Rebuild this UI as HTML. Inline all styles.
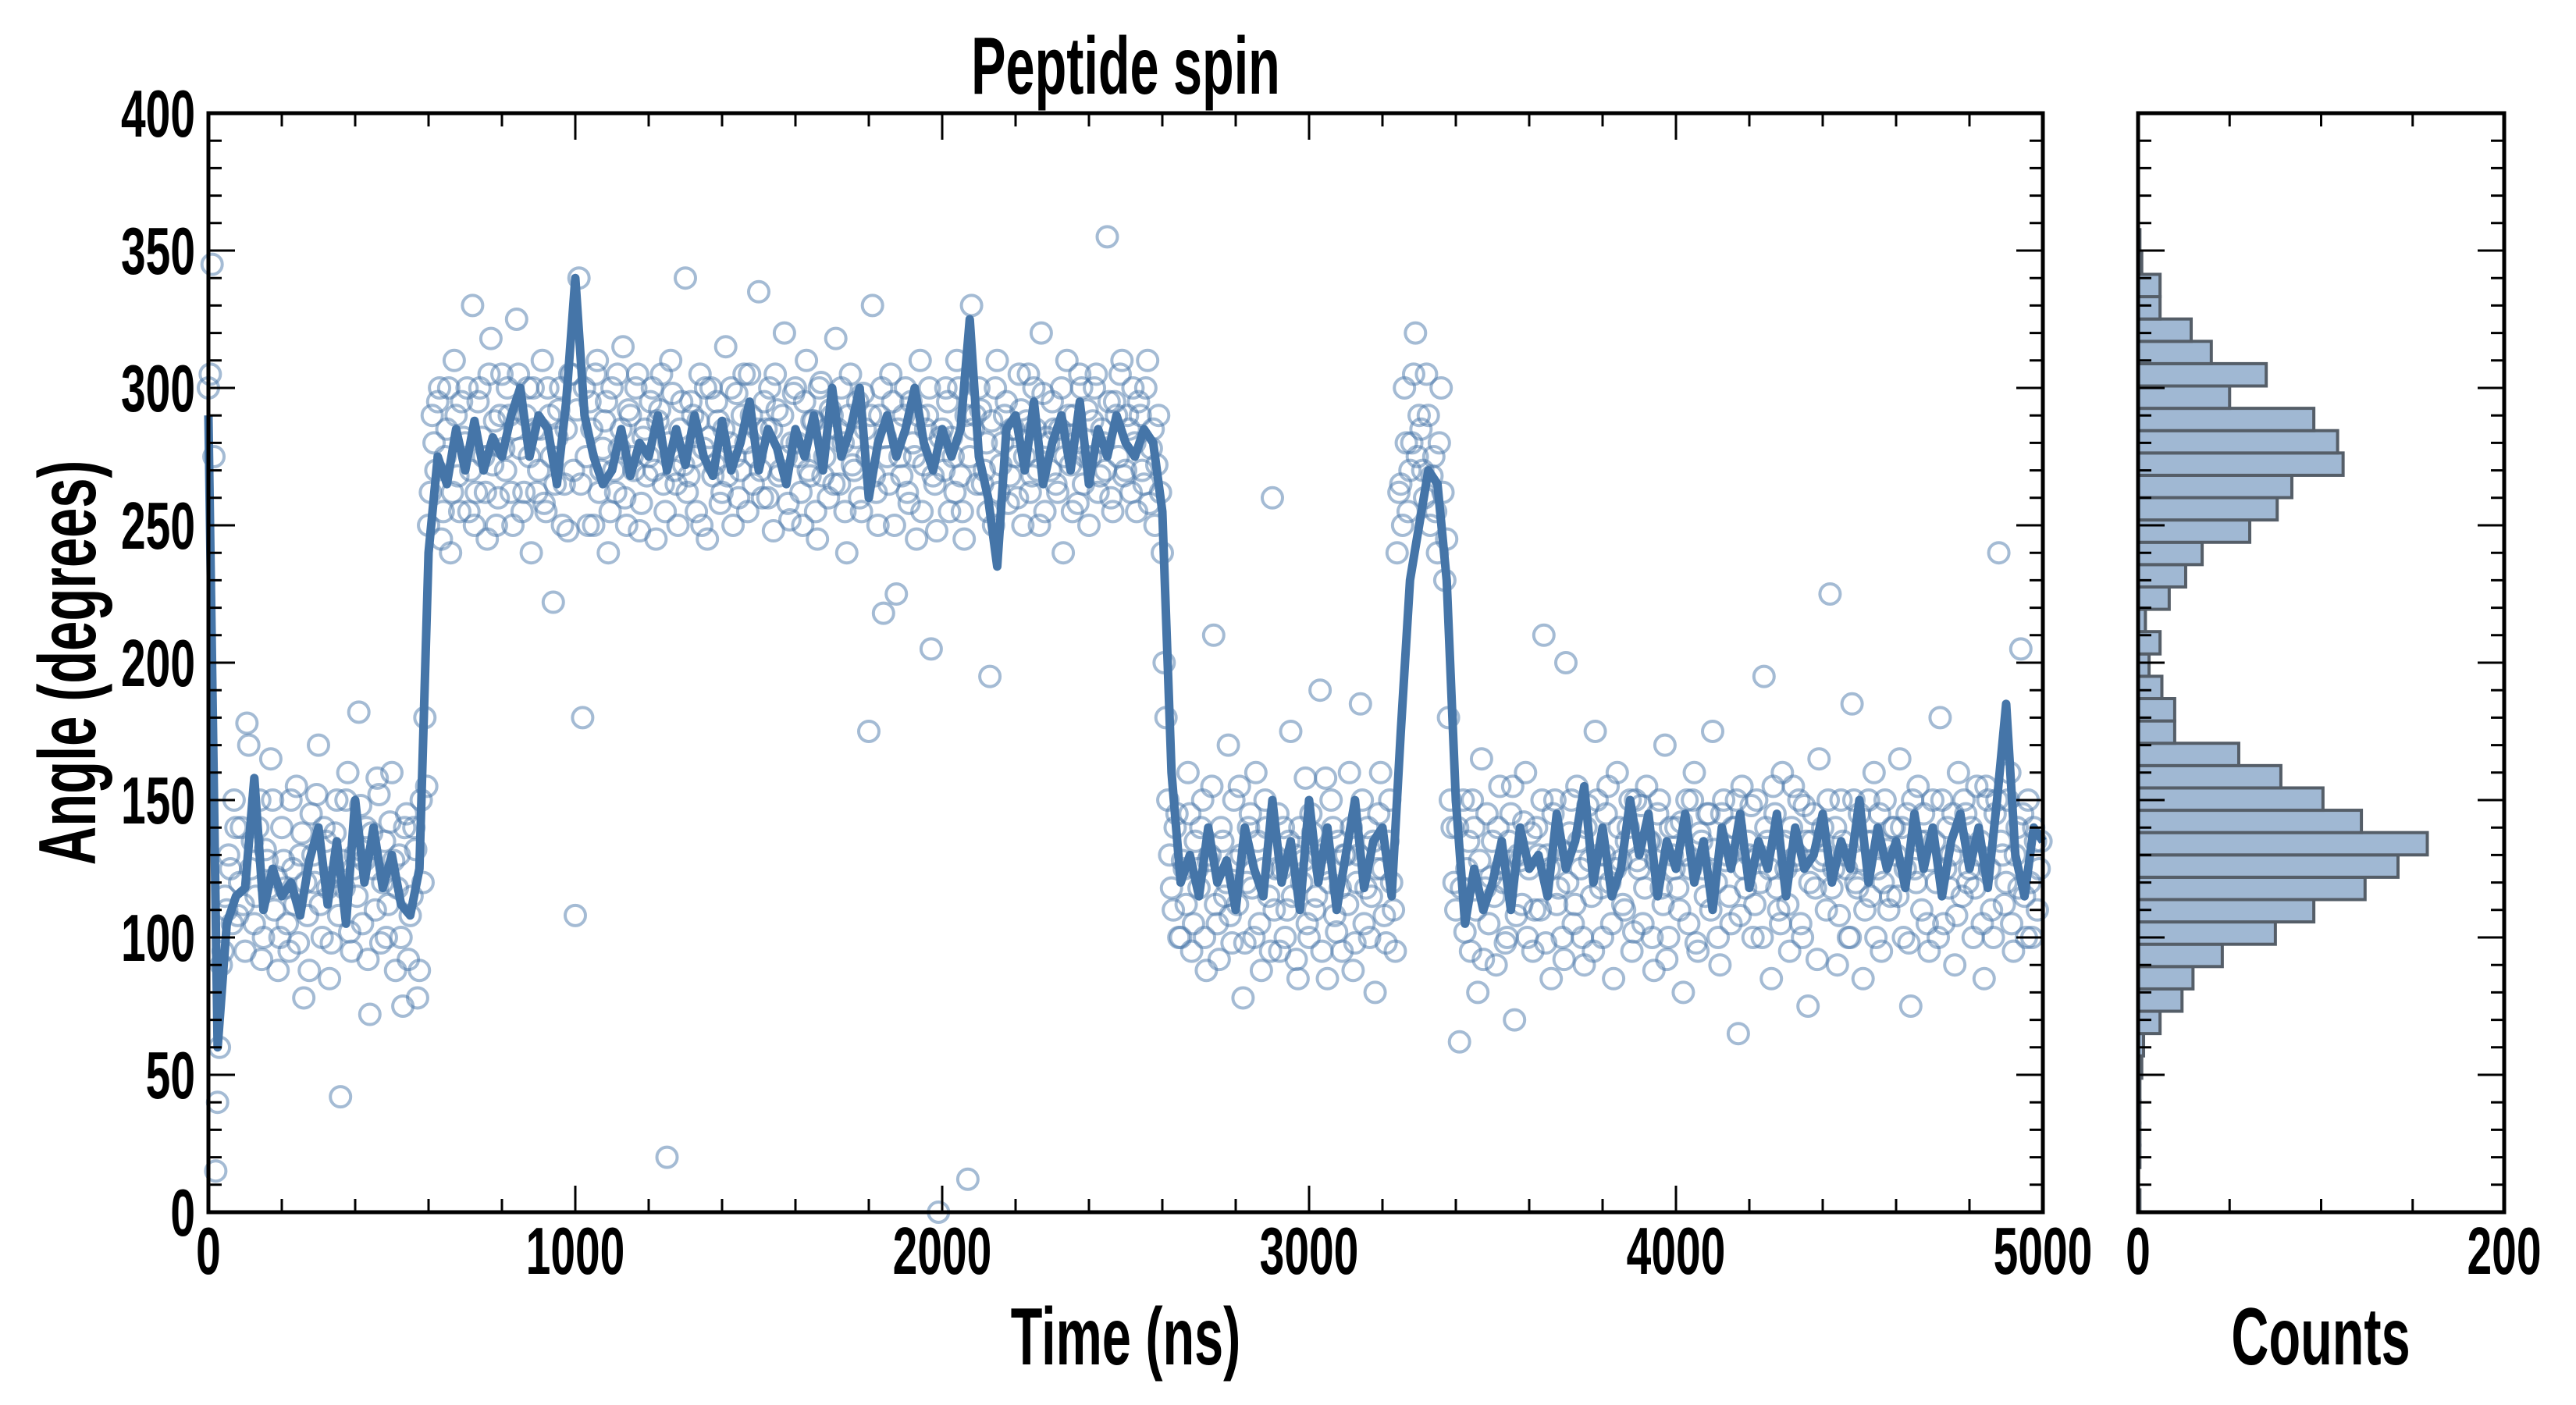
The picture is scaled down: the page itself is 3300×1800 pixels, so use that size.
<!DOCTYPE html>
<html><head><meta charset="utf-8"><style>
html,body{margin:0;padding:0;background:#fff;}
svg{display:block;}
text{font-family:"Liberation Sans Narrow","Liberation Sans",sans-serif;font-weight:bold;fill:#000;}
</style></head><body>
<svg id="chart" width="3300" height="1800" viewBox="0 0 3300 1800" xmlns="http://www.w3.org/2000/svg">
<g id="main"></g>
<g id="hist"></g>
</svg>
<script>
// scatter angles sampled every 10 ns starting at t=0
const scatterAngles = [
300,345,15,60,95,110,125,150,108,140,
95,170,135,115,150,100,128,165,110,88,
140,118,95,125,155,130,78,108,145,120,
170,100,135,85,122,150,42,118,160,95,
130,182,105,140,72,125,158,98,135,112,
160,88,130,75,145,108,140,78,150,180,
250,290,270,300,255,285,240,310,268,295,
280,255,330,262,300,275,245,318,288,260,
305,270,290,250,325,278,262,300,240,285,
270,310,255,290,222,282,300,265,248,305,
108,340,180,275,295,250,310,270,288,240,
300,262,278,315,250,290,270,305,258,285,
275,300,245,292,265,20,310,270,250,295,
340,268,290,255,305,278,245,300,272,288,
262,315,280,250,298,270,305,255,290,275,
335,260,285,300,248,292,270,320,258,280,
300,275,250,310,268,288,245,302,275,260,
290,318,265,280,240,305,270,295,255,285,
175,330,262,290,218,275,305,250,285,268,
300,258,280,245,310,272,290,205,265,0,
285,300,255,275,310,268,245,12,330,290,
300,265,280,195,250,310,272,290,258,285,
275,305,250,288,262,300,270,320,255,280,
295,265,285,240,310,272,290,258,300,275,
250,288,305,268,280,355,260,295,275,310,
270,285,300,255,290,265,310,278,250,290,
240,180,130,110,145,100,125,160,95,135,
118,150,88,130,210,105,140,115,170,98,
128,155,78,120,145,100,135,88,150,115,
260,125,95,140,110,175,130,85,120,158,
100,138,115,190,125,85,150,108,135,95,
130,160,88,120,185,105,140,115,80,145,
125,98,150,110,240,265,300,255,280,320,
290,270,305,250,275,240,300,230,180,140,
110,62,150,125,95,140,80,165,118,105,
135,90,155,120,100,145,70,130,112,160,
125,95,140,110,210,130,85,150,118,100,
200,138,105,155,125,90,148,115,175,130,
100,145,120,85,160,128,110,140,95,150,
125,105,155,135,88,145,118,170,100,130,
140,110,80,150,125,160,95,135,115,145,
175,120,90,150,130,105,140,65,155,118,
130,100,150,120,195,135,85,145,110,160,
125,95,155,130,105,148,75,135,118,165,
140,110,225,125,90,150,130,100,185,120,
145,85,135,115,160,125,95,150,110,140,
130,165,100,145,75,125,155,110,135,95,
150,120,180,105,140,130,90,160,115,145,
125,100,155,135,85,150,110,145,240,130,
120,160,95,140,205,115,150,100,135,125
];
// second set of samples, offset by 5 ns
const scatterAnglesB = [
305,275,40,90,115,130,105,140,120,112,
178,125,105,140,92,132,118,150,122,100,
128,105,150,112,98,138,120,88,130,152,
112,140,118,98,138,108,128,150,102,125,
115,148,128,92,138,110,152,120,100,142,
128,118,100,140,92,115,132,88,120,155,
262,280,295,245,275,300,262,290,255,282,
300,270,250,295,282,262,305,272,250,290,
278,300,262,285,305,255,290,275,300,262,
285,258,300,275,265,292,250,285,305,270,
292,265,300,250,285,305,262,278,295,255,
270,305,285,260,292,275,300,248,282,268,
295,270,288,305,255,280,298,265,285,272,
262,295,275,288,250,300,282,268,295,258,
285,268,300,275,260,290,280,305,265,285,
270,295,260,285,305,268,290,275,252,298,
280,262,295,270,288,255,300,268,285,292,
265,285,300,255,290,272,282,260,298,275,
290,268,250,300,282,265,295,225,275,290,
262,295,275,290,255,285,300,268,248,282,
270,295,282,262,300,255,290,275,285,265,
292,270,255,288,300,262,280,295,268,285,
260,292,275,305,268,285,250,298,282,270,
285,262,300,275,290,255,280,305,265,292,
275,300,262,285,270,295,255,290,305,268,
290,262,280,295,270,300,258,285,272,262,
200,150,118,140,100,128,112,145,105,125,
140,100,128,155,112,92,135,120,108,150,
112,130,98,140,118,160,105,125,140,95,
110,145,125,100,135,115,92,140,128,105,
145,110,130,95,158,120,140,102,118,130,
112,140,98,130,150,118,100,135,125,160,
108,135,120,95,262,250,280,270,305,275,
285,260,290,268,255,280,262,245,150,120,
140,118,102,135,150,110,128,92,145,122,
115,140,125,98,135,155,108,128,142,100,
138,110,130,150,98,125,145,112,132,92,
120,150,112,135,100,140,128,95,150,118,
130,155,105,125,140,112,135,150,102,128,
148,118,135,100,128,150,112,92,140,125,
118,142,130,105,150,98,138,125,145,110,
132,100,145,128,115,140,150,108,125,135,
148,112,130,100,140,125,155,118,105,135,
112,140,128,150,100,135,120,145,92,128,
130,150,118,140,108,135,125,100,150,118,
128,110,150,135,100,145,120,132,115,140,
115,140,125,98,150,120,135,145,105,128,
135,100,150,125,118,145,108,135,150,120,
140,118,130,105,155,125,100,150,135,112,
150,105,130,118,145,100,120,140,110,135
];
const scatterStep = 10;
// smoothed angle every 25 ns
const lineAngles = [
290,60,105,115,118,158,110,125,115,120,108,128,140,112,135,105,150,120,140,118,
130,112,108,125,240,275,265,285,270,288,270,282,275,290,300,275,290,285,265,295,
340,290,275,265,270,285,268,280,275,290,270,285,272,290,275,268,288,270,280,295,
270,285,278,265,285,275,290,270,300,275,285,300,260,280,290,275,285,300,280,270,
285,275,285,325,275,260,235,285,290,270,295,265,280,290,270,295,265,285,275,290,
280,275,285,280,255,160,120,130,115,140,120,128,110,140,125,115,150,120,135,110,
150,120,140,110,130,150,118,135,140,115,175,230,250,270,265,230,150,105,125,110,
120,135,110,140,125,130,115,145,125,135,155,120,140,115,125,150,130,145,115,135,
125,145,120,135,110,140,125,145,118,135,125,145,115,140,125,130,145,120,135,125,
150,120,140,125,135,118,145,125,140,115,135,145,125,140,118,150,185,130,115,140,
135
];
const lineStep = 25;
// histogram: 44 bins from 0 to 357.6 deg (bottom to top)
const histCounts = [
1,0,1,1,1,1,2,3,12,24,30,46,75,96,124,142,158,122,101,78,55,20,20,13,6,12,4,17,26,35,61,76,84,112,109,96,50,70,40,29,12,12,2,1
];
const histMax = 357.6;
const xTicks = [0,1000,2000,3000,4000,5000];
const yTicks = [0,50,100,150,200,250,300,350,400];
const countTicks = [0,200];

const NS='http://www.w3.org/2000/svg';
const L=267,R=2617,T=145,B=1553,HL=2739,HR=3208;
const xS=t=>L+t/5000*(R-L);
const yS=a=>B-a/400*(B-T);
const cS=c=>HL+c/200*(HR-HL);
function mk(tag,attrs,parent){const e=document.createElementNS(NS,tag);for(const k in attrs)e.setAttribute(k,attrs[k]);parent.appendChild(e);return e;}
function txt(s,x,y,size,anchor,sx,parent,rot){
  const e=mk('text',{x:0,y:0,'font-size':size,'text-anchor':anchor,transform:`translate(${x},${y})${rot?' rotate('+rot+')':''} scale(${sx},1)`},parent);
  e.textContent=s;return e;}
const main=document.getElementById('main');
const hist=document.getElementById('hist');

// scatter
const sg=mk('g',{},main);


function drawScatter(arr,offset){
  arr.forEach((a,i)=>{
    const c=mk('circle',{cx:xS(i*scatterStep+offset),cy:yS(a),r:13,fill:'none',stroke:'#4a77aa','stroke-width':4,'stroke-opacity':0.5},sg);
    
    
  });
}
drawScatter(scatterAngles,0);
drawScatter(scatterAnglesB,5);
// line
let d='';lineAngles.forEach((a,i)=>{d+=(i?'L':'M')+xS(i*lineStep).toFixed(1)+','+yS(a).toFixed(1);});
const ln=mk('path',{d:d,fill:'none',stroke:'#4575a8','stroke-width':11,'stroke-linejoin':'round'},main);



// main ticks
const tg=mk('g',{stroke:'#000','stroke-width':3},main);
for(let t=0;t<=5000;t+=200){const maj=t%1000===0;const len=maj?34:17;const x=xS(t);
  mk('line',{x1:x,y1:B,x2:x,y2:B-len},tg);mk('line',{x1:x,y1:T,x2:x,y2:T+len},tg);}
for(let a=0;a<=400;a+=10){const maj=a%50===0;const len=maj?34:17;const y=yS(a);
  mk('line',{x1:L,y1:y,x2:L+len,y2:y},tg);mk('line',{x1:R,y1:y,x2:R-len,y2:y},tg);}
const fr=mk('rect',{x:L,y:T,width:R-L,height:B-T,fill:'none',stroke:'#000','stroke-width':5},main);


xTicks.forEach(t=>{const e=txt(String(t),xS(t),1632,85,'middle',0.67,main);
  
  });
yTicks.forEach(a=>{const e=txt(String(a),250,yS(a)+30,85,'end',0.67,main);
  
  });
let e=txt('Peptide spin',1442,120,104,'middle',0.64,main);


e=txt('Time (ns)',1442,1748,104,'middle',0.64,main);


e=txt('Angle (degrees)',122,849,104,'middle',0.66,main,-90);



// histogram bars
const bw=histMax/histCounts.length;
const hg=mk('g',{},hist);


histCounts.forEach((c,i)=>{if(c<=0)return;const y1=yS((i+1)*bw),y2=yS(i*bw);
  const r=mk('rect',{x:HL,y:y1,width:cS(c)-HL,height:y2-y1,fill:'#a0b8d3',stroke:'#555e68','stroke-width':4},hg);
  
  });
const hk=mk('g',{stroke:'#000','stroke-width':3},hist);
for(let c=0;c<=200;c+=50){const x=cS(c);const len=(c%200===0)?34:17;
  mk('line',{x1:x,y1:B,x2:x,y2:B-len},hk);mk('line',{x1:x,y1:T,x2:x,y2:T+len},hk);}
for(let a=0;a<=400;a+=10){const maj=a%50===0;const len=maj?34:17;const y=yS(a);
  mk('line',{x1:HL,y1:y,x2:HL+len,y2:y},hk);mk('line',{x1:HR,y1:y,x2:HR-len,y2:y},hk);}
const hf=mk('rect',{x:HL,y:T,width:HR-HL,height:B-T,fill:'none',stroke:'#000','stroke-width':5},hist);


countTicks.forEach(c=>{const e=txt(String(c),cS(c),1632,85,'middle',0.67,hist);
  
  });
e=txt('Counts',2973,1748,104,'middle',0.64,hist);


</script>
</body></html>
